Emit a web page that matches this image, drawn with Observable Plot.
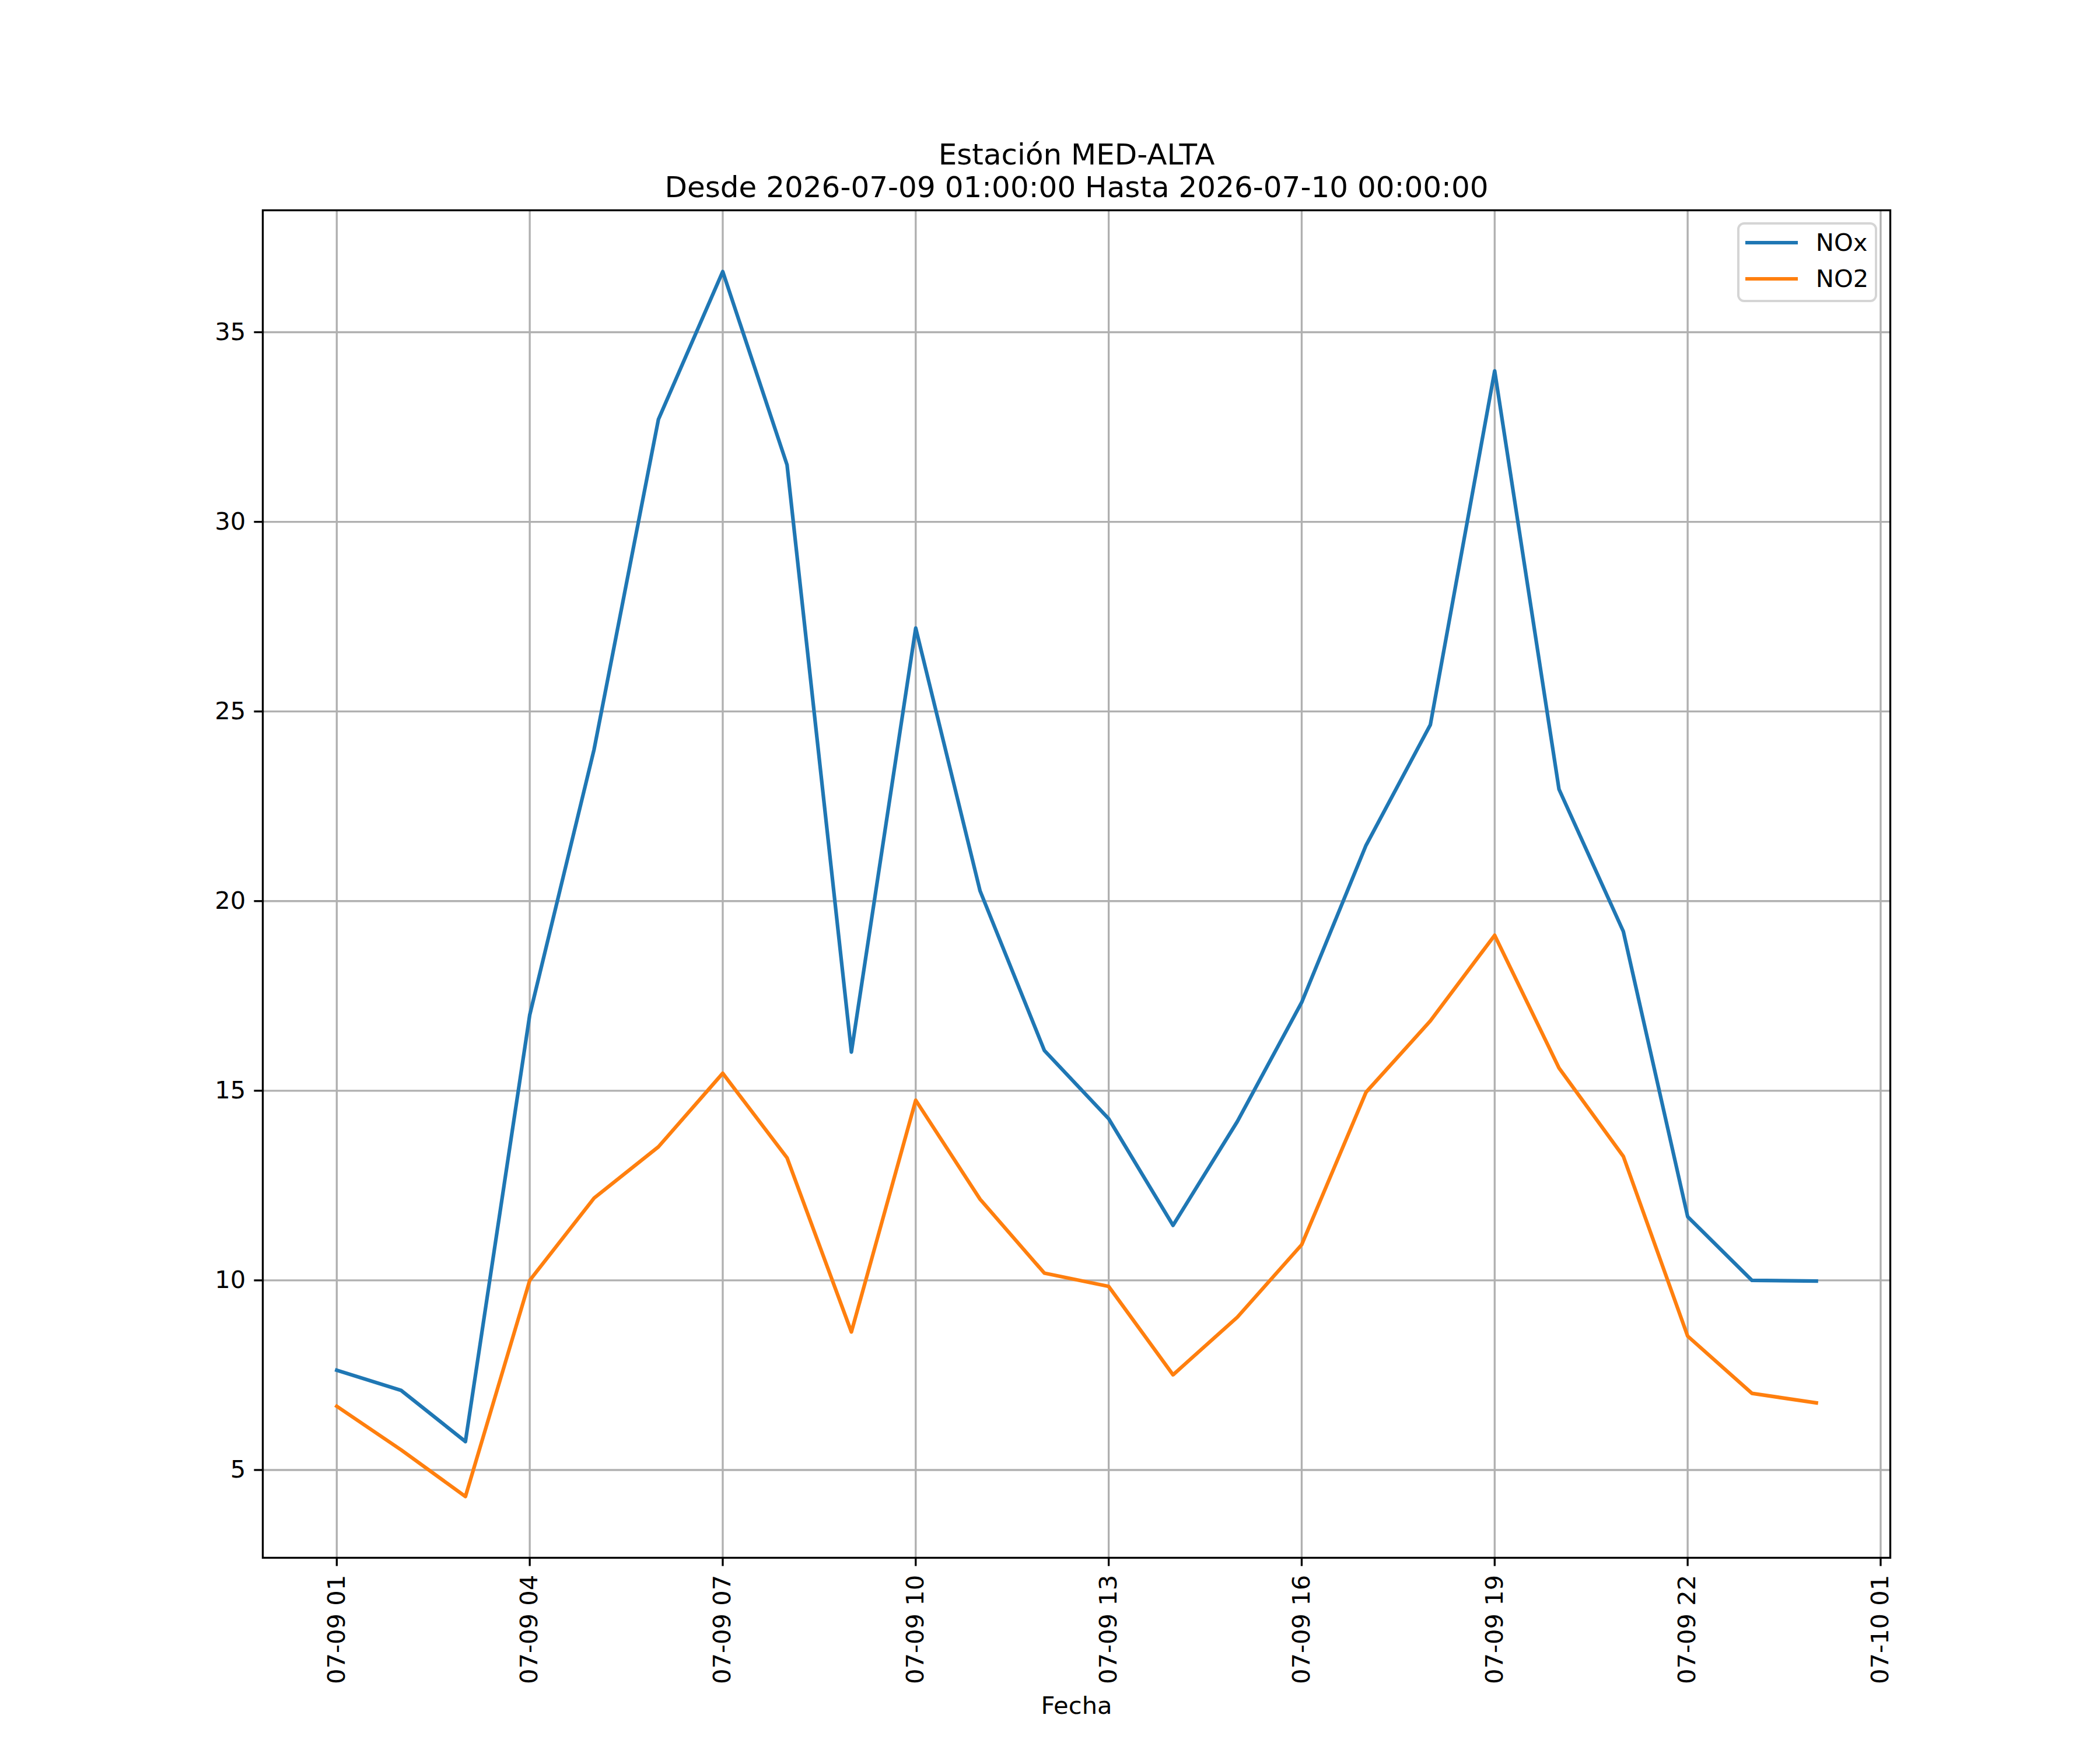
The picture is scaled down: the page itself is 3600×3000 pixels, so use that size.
<!DOCTYPE html>
<html>
<head>
<meta charset="utf-8">
<script src="https://cdn.jsdelivr.net/npm/d3@7"></script>
<script src="https://cdn.jsdelivr.net/npm/@observablehq/plot@0.6"></script>
<style>
  html, body { margin: 0; padding: 0; background: #fff; }
  #wrap { position: relative; width: 3600px; height: 3000px; font-family: "DejaVu Sans", sans-serif; }
  #legend { position: absolute; left: 2978px; top: 381px; width: 231.7px; height: 128.7px;
    border: 4.17px solid #d5d5d5; border-radius: 12px; background: rgba(255,255,255,0.8);
    font-family: "DejaVu Sans", sans-serif; font-size: 41.67px; color: #000; }
  .entry { position: absolute; left: 9.8px; height: 50px; display: flex; align-items: center; line-height: 1; }
  .swatch { width: 90px; height: 6.25px; margin-right: 31px; }
</style>
</head>
<body>
<div id="wrap"></div>
<script>
const titleLine1 = "Estación MED-ALTA";
const titleLine2 = "Desde 2026-07-09 01:00:00 Hasta 2026-07-10 00:00:00";
const xLabel = "Fecha";
const seriesNames = ["NOx", "NO2"];
const seriesColors = ["#1f77b4", "#ff7f0e"];

const times = [
  "2026-07-09T01:00Z","2026-07-09T02:00Z","2026-07-09T03:00Z","2026-07-09T04:00Z",
  "2026-07-09T05:00Z","2026-07-09T06:00Z","2026-07-09T07:00Z","2026-07-09T08:00Z",
  "2026-07-09T09:00Z","2026-07-09T10:00Z","2026-07-09T11:00Z","2026-07-09T12:00Z",
  "2026-07-09T13:00Z","2026-07-09T14:00Z","2026-07-09T15:00Z","2026-07-09T16:00Z",
  "2026-07-09T17:00Z","2026-07-09T18:00Z","2026-07-09T19:00Z","2026-07-09T20:00Z",
  "2026-07-09T21:00Z","2026-07-09T22:00Z","2026-07-09T23:00Z","2026-07-10T00:00Z"
];
const nox = [7.63, 7.1, 5.75, 17.0, 24.0, 32.7, 36.6, 31.5, 16.02, 27.2, 20.27, 16.06,
             14.26, 11.45, 14.19, 17.33, 21.47, 24.65, 33.98, 22.95, 19.2, 11.68, 10.0, 9.98];
const no2 = [6.68, 5.53, 4.3, 10.0, 12.17, 13.52, 15.46, 13.23, 8.64, 14.75, 12.14, 10.19,
             9.84, 7.51, 9.03, 10.94, 14.96, 16.84, 19.1, 15.6, 13.27, 8.53, 7.02, 6.77];

const xTicks = ["2026-07-09T01:00Z","2026-07-09T04:00Z","2026-07-09T07:00Z","2026-07-09T10:00Z",
  "2026-07-09T13:00Z","2026-07-09T16:00Z","2026-07-09T19:00Z","2026-07-09T22:00Z","2026-07-10T01:00Z"];
const yTicks = [5, 10, 15, 20, 25, 30, 35];

const dates = times.map(t => new Date(t));
const noxData = dates.map((d, i) => ({t: d, v: nox[i]}));
const no2Data = dates.map((d, i) => ({t: d, v: no2[i]}));

const tMin = d3.min(dates), tMax = d3.max(dates);
const tPad = (tMax - tMin) * 0.05;
const allV = nox.concat(no2);
const vMin = d3.min(allV), vMax = d3.max(allV);
const vPad = (vMax - vMin) * 0.05;

const FS = 41.67, LW = 6.25, THIN = 3.33, TICK = 14.6;

const chart = Plot.plot({
  width: 3600, height: 3000,
  marginLeft: 450, marginRight: 360, marginTop: 360, marginBottom: 330,
  style: {fontFamily: "DejaVu Sans", background: "#fff", color: "#000"},
  x: {type: "utc", domain: [new Date(+tMin - tPad), new Date(+tMax + tPad)]},
  y: {domain: [vMin - vPad, vMax + vPad]},
  marks: [
    Plot.gridX(xTicks.map(t => new Date(t)), {stroke: "#b0b0b0", strokeOpacity: 1, strokeWidth: THIN}),
    Plot.gridY(yTicks, {stroke: "#b0b0b0", strokeOpacity: 1, strokeWidth: THIN}),
    Plot.line(noxData, {x: "t", y: "v", stroke: seriesColors[0], strokeWidth: LW, strokeLinejoin: "round", strokeLinecap: "square"}),
    Plot.line(no2Data, {x: "t", y: "v", stroke: seriesColors[1], strokeWidth: LW, strokeLinejoin: "round", strokeLinecap: "square"}),
    Plot.frame({stroke: "#000", strokeWidth: THIN}),
    Plot.axisY({ticks: yTicks, tickSize: TICK, tickPadding: TICK, fontSize: FS, strokeWidth: THIN, label: null}),
    Plot.axisX({ticks: xTicks.map(t => new Date(t)), tickFormat: d3.utcFormat("%m-%d %H"), tickRotate: -90,
      tickSize: TICK, tickPadding: TICK, fontSize: FS, strokeWidth: THIN, label: null}),
    Plot.text([titleLine1], {text: d => d, frameAnchor: "top", dy: -95, fontSize: 50, lineAnchor: "middle"}),
    Plot.text([titleLine2], {text: d => d, frameAnchor: "top", dy: -39, fontSize: 50, lineAnchor: "middle"}),
    Plot.text([xLabel], {text: d => d, frameAnchor: "bottom", dy: 254, fontSize: FS, lineAnchor: "middle"})
  ]
});

const wrap = document.getElementById("wrap");
wrap.appendChild(chart);

const legend = document.createElement("div");
legend.id = "legend";
seriesNames.forEach((name, i) => {
  const e = document.createElement("div");
  e.className = "entry";
  e.style.top = (5.8 + i * 62) + "px";
  const sw = document.createElement("div");
  sw.className = "swatch";
  sw.style.background = seriesColors[i];
  const lab = document.createElement("span");
  lab.textContent = name;
  e.appendChild(sw); e.appendChild(lab);
  legend.appendChild(e);
});
wrap.appendChild(legend);
</script>
</body>
</html>
